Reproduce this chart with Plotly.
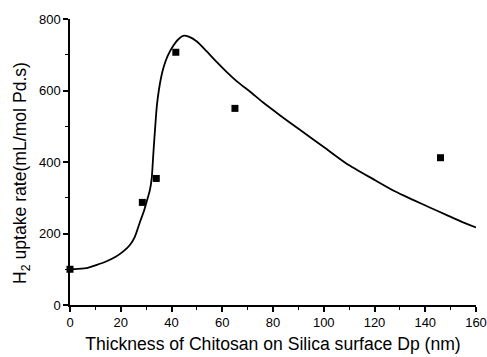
import plotly.graph_objects as go

# Measured data points
dp_nm = [0, 28.5, 34, 41.7, 65, 146]
uptake_rate = [100, 287, 354, 707, 550, 412]

# Fitted curve, points
curve_x = [0, 3, 7, 10, 14, 18, 21, 23.6, 25.5, 27.6, 29, 30.2, 31.5, 32.2, 32.6, 33, 33.5,
           34.2, 35, 36, 37, 38.5, 40.7, 42.5, 44.6, 47, 50, 53.8, 57.5, 61.7, 66, 70.9,
           76, 82.7, 90.6, 100, 108.9, 120, 128, 135.2, 142, 148.3, 154, 160]
curve_y = [100, 101, 104, 111, 121, 135, 150, 168, 190, 233, 260, 289, 322, 354, 395, 440, 490,
           555, 600, 640, 668, 697, 725, 742, 753, 750, 737, 710, 682, 652, 624, 597,
           567, 531, 490, 442, 396, 350, 318, 294, 272, 252, 234, 217]

x_ticks = [0, 20, 40, 60, 80, 100, 120, 140, 160]
y_ticks = [0, 200, 400, 600, 800]

font = "Liberation Sans, Arial, sans-serif"

fig = go.Figure()
fig.add_trace(go.Scatter(x=curve_x, y=curve_y, mode="lines",
                         line=dict(color="black", width=1.8, shape="spline", smoothing=0.7),
                         showlegend=False, hoverinfo="skip"))
fig.add_trace(go.Scatter(x=dp_nm, y=uptake_rate, mode="markers",
                         marker=dict(symbol="square", size=7, color="black"),
                         showlegend=False, cliponaxis=False))

fig.update_layout(
    width=487, height=357,
    margin=dict(l=70, r=11, t=19, b=52),
    paper_bgcolor="white", plot_bgcolor="white",
    font=dict(family=font, color="black", size=13),
    xaxis=dict(range=[0, 160], tickvals=x_ticks, ticktext=[str(v) for v in x_ticks],
               showline=True, linecolor="black", linewidth=1.5, mirror=False,
               ticks="outside", ticklen=5, tickwidth=1.5, tickcolor="black",
               minor=dict(dtick=10, ticks="outside", ticklen=3, tickwidth=1.2, tickcolor="black"),
               showgrid=False, zeroline=False, automargin=False,
               title=dict(text="Thickness of Chitosan on Silica surface Dp (nm)",
                          font=dict(size=17.6), standoff=8),
               tickfont=dict(size=13)),
    yaxis=dict(range=[0, 800], tickvals=y_ticks, ticktext=[str(v) for v in y_ticks],
               showline=True, linecolor="black", linewidth=1.5, mirror=False,
               ticks="outside", ticklen=5, tickwidth=1.5, tickcolor="black",
               minor=dict(dtick=100, ticks="outside", ticklen=3, tickwidth=1.2, tickcolor="black"),
               showgrid=False, zeroline=False, automargin=False,
               tickfont=dict(size=13)),
    annotations=[dict(text="H<sub>2</sub> uptake rate(mL/mol Pd.s)", textangle=-90,
                      xref="paper", yref="paper", x=-0.1207, y=0.4615,
                      xanchor="center", yanchor="middle", showarrow=False,
                      font=dict(size=17.6))],
)

fig.write_html("out.html", config={"displayModeBar": False},
               post_script="document.body.style.margin='0';")
